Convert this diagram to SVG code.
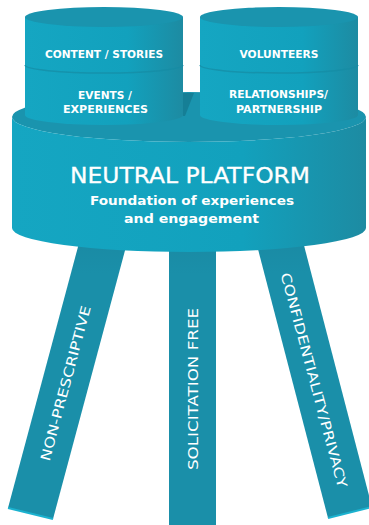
<svg xmlns="http://www.w3.org/2000/svg" width="369" height="525" viewBox="0 0 369 525">
<defs>
<linearGradient id="side" x1="0" y1="0" x2="1" y2="0">
<stop offset="0" stop-color="#15a6c2"/>
<stop offset="0.65" stop-color="#12a1bd"/>
<stop offset="1" stop-color="#1d8ba2"/>
</linearGradient>
<linearGradient id="leg" x1="0" y1="0" x2="0" y2="1">
<stop offset="0" stop-color="#1a89a2"/>
<stop offset="0.15" stop-color="#1a8fa9"/>
<stop offset="1" stop-color="#1a8fa9"/>
</linearGradient>
</defs>
<style>
.top{fill:#1a94ae}
.side{fill:url(#side)}
.leg{fill:url(#leg)}
.foot{stroke:#1bb2cf;stroke-width:2;fill:none}
.div{fill:none;stroke:#168ba4;stroke-width:1.5;opacity:0.7}
.lab{font-family:"DejaVu Sans","Liberation Sans",sans-serif;font-weight:bold;font-size:10.5px;fill:#ffffff;text-anchor:middle}
.leglab{font-family:"DejaVu Sans","Liberation Sans",sans-serif;font-size:13.5px;fill:#ffffff;text-anchor:middle}
.title{font-family:"DejaVu Sans","Liberation Sans",sans-serif;font-size:21px;fill:#ffffff;text-anchor:middle;stroke:#ffffff;stroke-width:0.3}
.sub{font-family:"DejaVu Sans","Liberation Sans",sans-serif;font-weight:bold;font-size:13px;fill:#ffffff;text-anchor:middle}
</style>
<rect width="369" height="525" fill="#ffffff"/>

<g id="leg-non-prescriptive">
<polygon class="leg" points="82.5,230 130.5,230 53,519 8,508"/>
<line class="foot" x1="8" y1="508" x2="53" y2="519"/>
<text class="leglab" transform="translate(70.2,384.4) rotate(-75)" x="0" y="0" textLength="160" lengthAdjust="spacingAndGlyphs">NON-PRESCRIPTIVE</text>
</g>

<g id="leg-solicitation-free">
<rect class="leg" x="169" y="230" width="47" height="295"/>
<text class="leglab" transform="translate(198,389) rotate(-90)" x="0" y="0" textLength="162" lengthAdjust="spacingAndGlyphs">SOLICITATION FREE</text>
</g>

<g id="leg-confidentiality">
<polygon class="leg" points="253,230 300,230 372,507 328,518"/>
<line class="foot" x1="328" y1="518" x2="372" y2="507"/>
<text class="leglab" transform="translate(309.3,381.4) rotate(75)" x="0" y="0" textLength="222" lengthAdjust="spacingAndGlyphs">CONFIDENTIALITY/PRIVACY</text>
</g>

<g id="platform">
<ellipse class="top" cx="189" cy="117" rx="177" ry="25"/>
<path class="side" d="M12,117 A177,25 0 0 0 366,117 L366,228 A177,24 0 0 1 12,228 Z"/>
<polygon points="183,93 194,93 185,116 183,116" fill="#157f96"/>
<text class="title" x="190" y="183" textLength="240" lengthAdjust="spacingAndGlyphs">NEUTRAL PLATFORM</text>
<text class="sub" x="192" y="205" textLength="204" lengthAdjust="spacingAndGlyphs">Foundation of experiences</text>
<text class="sub" x="191.5" y="223" textLength="135" lengthAdjust="spacingAndGlyphs">and engagement</text>
</g>

<g id="cylinder-left">
<path class="side" d="M25,17 L183,17 L183,115 A79,10 0 0 1 25,115 Z"/>
<ellipse class="top" cx="104" cy="17" rx="79" ry="10"/>
<path class="div" d="M25,65 A79,8 0 0 0 183,65"/>
<text class="lab" x="104" y="58" textLength="118" lengthAdjust="spacingAndGlyphs">CONTENT / STORIES</text>
<text class="lab" x="105" y="99" textLength="54" lengthAdjust="spacingAndGlyphs">EVENTS /</text>
<text class="lab" x="105.5" y="112.5" textLength="85" lengthAdjust="spacingAndGlyphs">EXPERIENCES</text>
</g>

<g id="cylinder-right">
<path class="side" d="M200,17 L358,17 L358,115 A79,10 0 0 1 200,115 Z"/>
<ellipse class="top" cx="279" cy="17" rx="79" ry="10"/>
<path class="div" d="M200,65 A79,8 0 0 0 358,65"/>
<text class="lab" x="279" y="58" textLength="79" lengthAdjust="spacingAndGlyphs">VOLUNTEERS</text>
<text class="lab" x="278.5" y="98" textLength="99" lengthAdjust="spacingAndGlyphs">RELATIONSHIPS/</text>
<text class="lab" x="279" y="112.5" textLength="86" lengthAdjust="spacingAndGlyphs">PARTNERSHIP</text>
</g>
</svg>
